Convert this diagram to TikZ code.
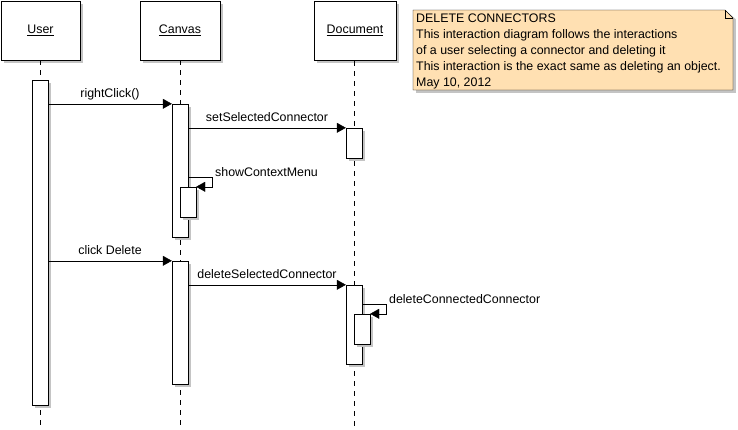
\documentclass[tikz,border=0pt]{standalone}
\usepackage{fontspec}
\setmainfont{Liberation Sans}
\usetikzlibrary{arrows.meta,calc,shadows}
\definecolor{notefill}{RGB}{255,224,178}
\definecolor{shadowgray}{RGB}{196,196,196}
\begin{document}
\begin{tikzpicture}[x=1pt,y=-1pt,
  every node/.style={font=\fontsize{12.4}{16}\selectfont},
  dshadow/.style={drop shadow={shadow xshift=3pt,shadow yshift=-3pt,fill=shadowgray,opacity=1}},
  objbox/.style={draw,fill=white,dshadow,minimum height=59pt,inner sep=0pt},
  act/.style={draw,fill=white,dshadow,minimum width=16pt,inner sep=0pt},
  lifeline/.style={dash pattern=on 5pt off 5pt},
  msg/.style={-{Triangle[length=9pt,width=10pt]}},
  lbl/.style={anchor=base,inner sep=0pt,yshift=6pt}]
\useasboundingbox (0,0) rectangle (738,429);
\fill[white] (0,0) rectangle (738,429);
% object boxes
\node[objbox,minimum width=79pt] (user) at (40.5,30.5) {\underline{User}};
\node[objbox,minimum width=80pt] (canvas) at (180,30.5) {\underline{Canvas}};
\node[objbox,minimum width=82pt] (doc) at (355,30.5) {\underline{Document}};
% lifelines
\coordinate (uend) at (40,426);
\coordinate (cend) at (180,426);
\coordinate (dend) at (354,426);
\draw[lifeline] (user.south -| uend) -- (uend);
\draw[lifeline] (canvas.south -| cend) -- (cend);
\draw[lifeline] (354,61) -- (dend);
% activations
\node[act,minimum height=325pt] (u1) at (40,242.5) {};
\node[act,minimum height=133pt] (c1) at (180,170.5) {};
\node[act,minimum height=30pt] (c2) at (188,202) {};
\node[act,minimum height=123pt] (c3) at (180,322.5) {};
\node[act,minimum height=30pt] (d1) at (354,143) {};
\node[act,minimum height=79pt] (d2) at (354,324.5) {};
\node[act,minimum height=30pt] (d3) at (362,329) {};
% messages
\draw[msg] (u1.east |- c1.north) -- node[lbl] {rightClick()} (c1.north west);
\draw[msg] (c1.east |- d1.north) -- node[lbl] {setSelectedConnector} (d1.north west);
\draw[msg] (u1.east |- c3.north) -- node[lbl] {click Delete} (c3.north west);
\draw[msg] (c3.east |- d2.north) -- node[lbl] {deleteSelectedConnector} (d2.north west);
% self calls
\coordinate (s1) at (212,177);
\draw[msg] (c1.east |- s1) -- (s1) |- (c2.north east);
\node[anchor=base west,inner sep=0pt] (s1l) at (215,176) {showContextMenu};
\coordinate (s2) at (386,304);
\draw[msg] (d2.east |- s2) -- (s2) |- (d3.north east);
\node[anchor=base west,inner sep=0pt] (s2l) at (389,303) {deleteConnectedConnector};
% note
\fill[shadowgray] (416,13) -- (736,13) -- (736,93) -- (416,93) -- cycle;
\fill[white] (725,10) -- (737,10) -- (737,20) -- cycle;
\draw[fill=notefill] (413,10) -- (725,10) -- (733,18) -- (733,90) -- (413,90) -- cycle;
\draw (725,10) -- (725,18) -- (733,18);
\node[anchor=north west,inner sep=0pt,align=left] (note) at (416,13.9)
 {DELETE CONNECTORS\\This interaction diagram follows the interactions\\of a user selecting a connector and deleting it\\This interaction is the exact same as deleting an object.\\May 10, 2012};
\end{tikzpicture}
\end{document}
